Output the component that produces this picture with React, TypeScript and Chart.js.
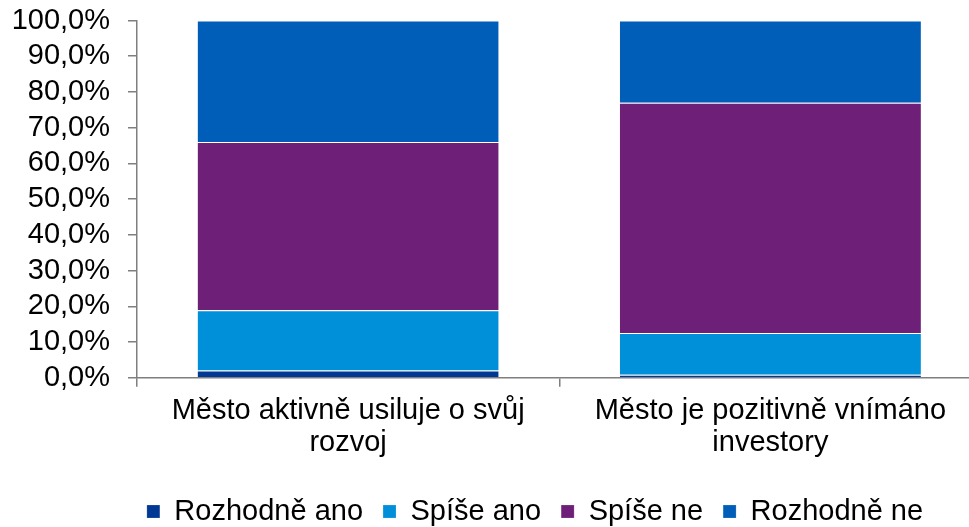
import React, { useEffect, useRef } from "react";
import { Chart, registerables } from "chart.js";

Chart.register(...registerables);

const categories: string[][] = [
  ["Město aktivně usiluje o svůj", "rozvoj"],
  ["Město je pozitivně vnímáno", "investory"],
];
const seriesNames = ["Rozhodně ano", "Spíše ano", "Spíše ne", "Rozhodně ne"];
const rozhodneAno = [2.0, 0.8];
const spiseAno = [16.9, 11.7];
const spiseNe = [47.1, 64.5];
const rozhodneNe = [34.0, 23.0];
const seriesColors = ["#003893", "#0090DA", "#6E1F77", "#005EB8"];

const FONT = "'Liberation Sans', Arial, sans-serif";

export default function App() {
  const ref = useRef<HTMLCanvasElement | null>(null);

  useEffect(() => {
    if (!ref.current) return;
    const values = [rozhodneAno, spiseAno, spiseNe, rozhodneNe];
    const chart = new Chart(ref.current, {
      type: "bar",
      data: {
        labels: categories as any,
        datasets: values.map((v, i) => ({
          label: seriesNames[i],
          data: v,
          backgroundColor: seriesColors[i],
          borderColor: "rgba(255,255,255,0.7)",
          borderWidth: { top: 1, left: 0, right: 0, bottom: 0 },
          borderSkipped: false,
          categoryPercentage: 1,
          barPercentage: 0.713,
          yAxisID: "y",
        })),
      },
      options: {
        responsive: false,
        animation: false,
        devicePixelRatio: 1,
        layout: { padding: { left: 0, right: 0, top: 0, bottom: -9 } },
        plugins: {
          tooltip: { enabled: false },
          legend: {
            position: "bottom",
            labels: {
              boxWidth: 13,
              boxHeight: 13,
              padding: 20,
              color: "#000",
              font: { family: FONT, size: 29 },
            },
          },
        },
        scales: {
          x: {
            stacked: true,
            grid: {
              offset: true,
              drawOnChartArea: false,
              drawTicks: true,
              tickLength: 9,
              color: "#7f7f7f",
              lineWidth: 1.5,
            },
            border: { color: "#7f7f7f", width: 1.5 },
            ticks: {
              color: "#000",
              font: { family: FONT, size: 29, lineHeight: 1.1 },
              padding: 8,
              maxRotation: 0,
              autoSkip: false,
            },
            afterFit: (s: any) => {
              s.height = 99.3;
            },
          },
          y: {
            stacked: true,
            min: 0,
            max: 100,
            grid: {
              drawOnChartArea: false,
              drawTicks: true,
              tickLength: 9,
              color: "#7f7f7f",
              lineWidth: 1.5,
            },
            border: { color: "#7f7f7f", width: 1.5 },
            ticks: {
              stepSize: 10,
              autoSkip: false,
              color: "#000",
              padding: 18,
              font: { family: FONT, size: 29 },
              callback: (v: any) => Number(v).toFixed(1).replace(".", ",") + "%",
            },
            afterFit: (s: any) => {
              s.width = 137;
              s.paddingTop = 20.5;
              s.paddingBottom = 0;
            },
          },
          y2: {
            position: "right",
            grid: { display: false, drawTicks: false },
            border: { display: false },
            ticks: { display: false },
            afterFit: (s: any) => {
              s.width = 88.5;
              s.paddingTop = 0;
              s.paddingBottom = 0;
            },
          },
        },
      },
    });
    return () => chart.destroy();
  }, []);

  return (
    <div
      style={{
        position: "fixed",
        left: 0,
        top: 0,
        width: 969,
        height: 527,
        overflow: "hidden",
        background: "#fff",
      }}
    >
      <canvas ref={ref} width={1070} height={527} style={{ display: "block" }} />
    </div>
  );
}
